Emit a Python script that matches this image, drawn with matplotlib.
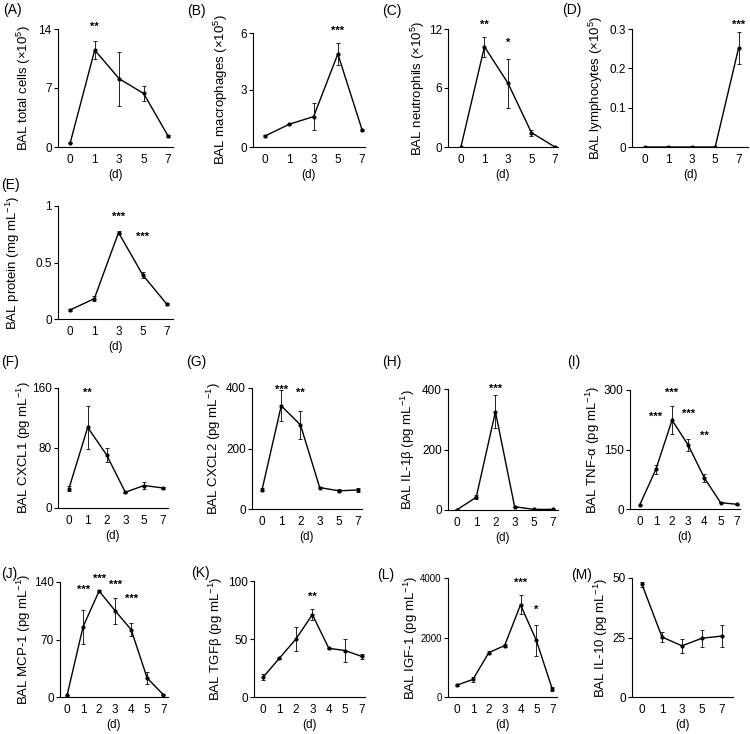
import matplotlib.pyplot as plt
import matplotlib as mpl

# Setting the stage
mpl.rcParams['font.family'] = ['Liberation Sans', 'DejaVu Sans']
mpl.rcParams['font.size'] = 8
mpl.rcParams['axes.spines.top'] = False
mpl.rcParams['axes.spines.right'] = False
mpl.rcParams['axes.linewidth'] = 0.8
mpl.rcParams['mathtext.default'] = 'regular'

W, H = 750, 734

# Data: days after exposure
days5 = ['0', '1', '3', '5', '7']
days6 = ['0', '1', '2', '3', '5', '7']
days7 = ['0', '1', '2', '3', '4', '5', '7']

# (A) total cells
total_mean = [0.5, 11.5, 8.1, 6.35, 1.3]
total_err = [0.05, 1.1, 3.2, 0.9, 0.1]
total_sig = ['', '**', '', '', '']
total_sig_y = [0, 14.2, 0, 0, 0]
# (B) macrophages
macro_mean = [0.58, 1.2, 1.6, 4.9, 0.9]
macro_err = [0.05, 0.03, 0.72, 0.6, 0.05]
macro_sig = ['', '', '', '***', '']
macro_sig_y = [0, 0, 0, 6.1, 0]
# (C) neutrophils
neut_mean = [0.0, 10.2, 6.5, 1.46, 0.0]
neut_err = [0.0, 1.0, 2.5, 0.3, 0.0]
neut_sig = ['', '**', '*', '', '']
neut_sig_y = [0, 12.45, 10.6, 0, 0]
# (D) lymphocytes
lymph_mean = [0.0, 0.0, 0.0, 0.0, 0.252]
lymph_err = [0.0, 0.0, 0.0, 0.0, 0.04]
lymph_sig = ['', '', '', '', '***']
lymph_sig_y = [0, 0, 0, 0, 0.311]
# (E) protein
prot_mean = [0.08, 0.18, 0.765, 0.39, 0.13]
prot_err = [0.005, 0.02, 0.01, 0.03, 0.01]
prot_sig = ['', '', '***', '***', '']
prot_sig_y = [0, 0, 0.9, 0.73, 0]
# (F) CXCL1
cxcl1_mean = [25.8, 107.5, 71, 21, 30, 26.7]
cxcl1_err = [3, 29, 9, 1, 5, 1]
cxcl1_sig = ['', '**', '', '', '', '']
cxcl1_sig_y = [0, 153, 0, 0, 0, 0]
# (G) CXCL2
cxcl2_mean = [63, 341, 278, 71, 60, 63]
cxcl2_err = [5, 51, 46, 3, 5, 7]
cxcl2_sig = ['', '***', '**', '', '', '']
cxcl2_sig_y = [0, 395, 383, 0, 0, 0]
# (H) IL-1b
il1b_mean = [1, 42, 325, 11, 2, 2]
il1b_err = [1, 7, 54, 1, 1, 1]
il1b_sig = ['', '', '***', '', '', '']
il1b_sig_y = [0, 0, 402, 0, 0, 0]
# (I) TNF-a
tnf_mean = [10, 100, 224, 161, 78, 16, 12]
tnf_err = [1, 12, 36, 15, 11, 1, 1]
tnf_sig = ['', '***', '***', '***', '**', '', '']
tnf_sig_y = [0, 233, 293, 239, 184, 0, 0]
# (J) MCP-1
mcp1_mean = [2, 85.5, 129, 105, 82, 23, 3]
mcp1_err = [0.5, 21, 1.5, 16, 8, 7.5, 0.5]
mcp1_sig = ['', '***', '***', '***', '***', '', '']
mcp1_sig_y = [0, 130, 144, 137, 120, 0, 0]
# (K) TGFb
tgfb_mean = [17, 33.5, 50, 71, 42, 40, 35]
tgfb_err = [2.5, 0.5, 10, 5, 0.5, 10, 2]
tgfb_sig = ['', '', '', '**', '', '', '']
tgfb_sig_y = [0, 0, 0, 86, 0, 0, 0]
# (L) IGF-1
igf1_mean = [400, 590, 1490, 1730, 3100, 1900, 270]
igf1_err = [40, 90, 50, 60, 320, 530, 70]
igf1_sig = ['', '', '', '', '***', '*', '']
igf1_sig_y = [0, 0, 0, 0, 3830, 2930, 0]
# (M) IL-10
il10_mean = [47.3, 25.2, 21.5, 24.7, 25.6]
il10_err = [1.2, 2.3, 3.0, 3.6, 4.8]
il10_sig = ['', '', '', '', '']
il10_sig_y = [0, 0, 0, 0, 0]

CELLS = '(\u00d710$^{5}$)'
CONC = '(pg mL$^{-1}$)'

panels = [
    ('(A)', days5, total_mean, total_err, total_sig, total_sig_y, 'BAL total cells ' + CELLS, [0, 7, 14]),
    ('(B)', days5, macro_mean, macro_err, macro_sig, macro_sig_y, 'BAL macrophages ' + CELLS, [0, 3, 6]),
    ('(C)', days5, neut_mean, neut_err, neut_sig, neut_sig_y, 'BAL neutrophils ' + CELLS, [0, 6, 12]),
    ('(D)', days5, lymph_mean, lymph_err, lymph_sig, lymph_sig_y, 'BAL lymphocytes ' + CELLS, [0, 0.1, 0.2, 0.3]),
    ('(E)', days5, prot_mean, prot_err, prot_sig, prot_sig_y, 'BAL protein (mg mL$^{-1}$)', [0, 0.5, 1]),
    ('(F)', days6, cxcl1_mean, cxcl1_err, cxcl1_sig, cxcl1_sig_y, 'BAL CXCL1 ' + CONC, [0, 80, 160]),
    ('(G)', days6, cxcl2_mean, cxcl2_err, cxcl2_sig, cxcl2_sig_y, 'BAL CXCL2 ' + CONC, [0, 200, 400]),
    ('(H)', days6, il1b_mean, il1b_err, il1b_sig, il1b_sig_y, 'BAL IL-1\u03b2 ' + CONC, [0, 200, 400]),
    ('(I)', days7, tnf_mean, tnf_err, tnf_sig, tnf_sig_y, 'BAL TNF-\u03b1 ' + CONC, [0, 150, 300]),
    ('(J)', days7, mcp1_mean, mcp1_err, mcp1_sig, mcp1_sig_y, 'BAL MCP-1 ' + CONC, [0, 70, 140]),
    ('(K)', days7, tgfb_mean, tgfb_err, tgfb_sig, tgfb_sig_y, 'BAL TGF\u03b2 ' + CONC, [0, 50, 100]),
    ('(L)', days7, igf1_mean, igf1_err, igf1_sig, igf1_sig_y, 'BAL IGF-1 ' + CONC, [0, 2000, 4000]),
    ('(M)', days5, il10_mean, il10_err, il10_sig, il10_sig_y, 'BAL IL-10 ' + CONC, [0, 25, 50]),
]

# Layout in pixels: axes (x0, x1, ytop, ybottom), x padding (left, right),
# ylabel offset, panel tag position, y tick label size
layout = {
    '(A)': ((58, 173, 29, 147), (0.5, 0.2), 25, (3, 10), 8.5),
    '(B)': ((253, 365, 33, 147), (0.5, 0.12), 23, (187, 11), 8.5),
    '(C)': ((448, 558, 29, 147), (0.55, 0.13), 21, (382, 11), 8.5),
    '(D)': ((632, 748, 29, 147), (0.55, 0.4), 27, (562, 10), 8.5),
    '(E)': ((58, 173, 206, 319), (0.5, 0.25), 36, (1, 185), 8.5),
    '(F)': ((58, 168, 388, 508), (0.58, 0.27), 25, (1, 362), 8.5),
    '(G)': ((252, 362, 388, 509), (0.52, 0.2), 29, (186, 362), 8.5),
    '(H)': ((448, 558, 389, 510), (0.47, 0.26), 31, (382, 362), 8.5),
    '(I)': ((630, 740, 390, 509), (0.6, 0.2), 28, (567, 362), 8.5),
    '(J)': ((60, 168, 582, 697), (0.44, 0.3), 27, (1, 574), 8.5),
    '(K)': ((254, 365, 581, 697), (0.55, 0.2), 29, (191, 573), 8.5),
    '(L)': ((448, 557, 578, 697), (0.57, 0.3), 28, (377, 575), 7),
    '(M)': ((632, 733, 578, 697), (0.5, 0.55), 22, (571, 575), 8.5),
}

fig = plt.figure(figsize=(W / 100, H / 100), dpi=100)

for tag, days, mean, err, sig, sig_y, ylabel, yticks in panels:
    (x0, x1, yt, yb), (padl, padr), yoff, (tx, ty), ysize = layout[tag]
    ax = fig.add_axes([x0 / W, (H - yb) / H, (x1 - x0) / W, (yb - yt) / H])
    xs = list(range(len(days)))
    ax.errorbar(xs, mean, yerr=err, color='black', lw=1, marker='o', ms=2,
                ecolor='#222222', elinewidth=0.7, capsize=1.5, capthick=0.7)
    for x, s, sy in zip(xs, sig, sig_y):
        if s:
            ax.text(x, sy, s, ha='center', va='center', fontsize=8,
                    fontweight='bold', clip_on=False)
    ax.set_xlim(-padl, len(days) - 1 + padr)
    ax.set_ylim(0, yticks[-1])
    ax.set_xticks(xs)
    ax.set_xticklabels(days)
    ax.set_yticks(yticks)
    ax.set_yticklabels(['{:g}'.format(v) for v in yticks])
    ax.tick_params(axis='x', length=0, pad=5, labelsize=8.5)
    ax.tick_params(axis='y', length=3, width=0.8, pad=1.5, labelsize=ysize)
    ax.set_xlabel('(d)', fontsize=8.5, labelpad=2)
    ax.set_ylabel(ylabel, fontsize=9.5)
    ax.yaxis.set_label_coords(-yoff / (x1 - x0), 0.5)
    fig.text(tx / W, 1 - ty / H, tag, ha='left', va='center', fontsize=10)

plt.savefig('out.png', dpi=100)
